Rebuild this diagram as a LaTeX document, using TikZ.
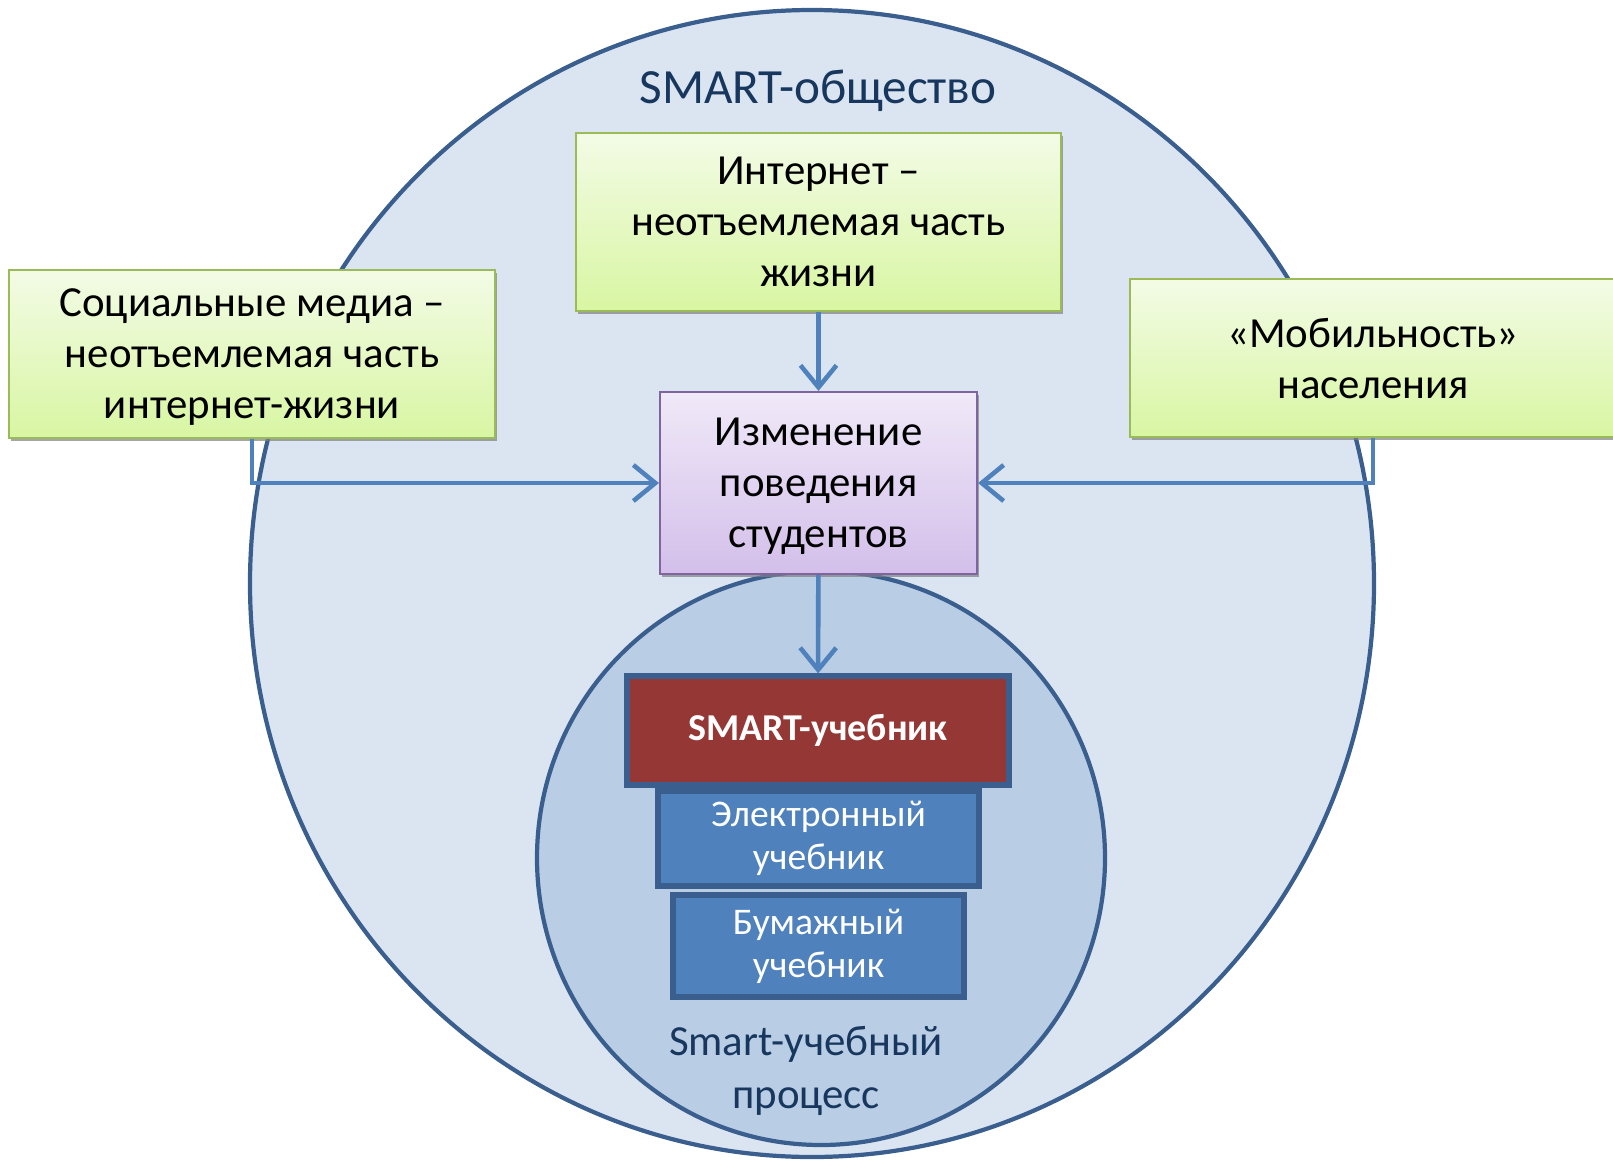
\documentclass[tikz,border=0pt]{standalone}
\usepackage{fontspec}
\setmainfont{Carlito}
\usetikzlibrary{positioning,arrows.meta,shadows}

\definecolor{ringfill}{HTML}{DBE5F1}
\definecolor{ringline}{HTML}{3A5F8E}
\definecolor{corefill}{HTML}{B9CDE5}
\definecolor{titleblue}{HTML}{17375E}
\definecolor{greentop}{HTML}{F3FBE6}
\definecolor{greenbot}{HTML}{D8F6A2}
\definecolor{greenline}{HTML}{9BBB59}
\definecolor{lilactop}{HTML}{F0E9F8}
\definecolor{lilacbot}{HTML}{D3BFEA}
\definecolor{lilacline}{HTML}{8064A2}
\definecolor{smartred}{HTML}{953735}
\definecolor{bookblue}{HTML}{4F81BD}

\begin{document}
\begin{tikzpicture}[
    ring/.style={draw=ringline, line width=1.2pt},
    greenbox/.style={rectangle, draw=greenline, line width=0.6pt, top color=greentop, bottom color=greenbot,
        align=center, inner sep=0pt, text depth=0pt, font=\fontsize{12.2}{14.5}\selectfont,
        drop shadow={shadow xshift=0.5pt, shadow yshift=-0.9pt, fill=black!50, opacity=0.7}},
    lilacbox/.style={rectangle, draw=lilacline, line width=0.6pt, top color=lilactop, bottom color=lilacbot,
        align=center, inner sep=0pt, text depth=0pt, font=\fontsize{12.2}{14.5}\selectfont,
        drop shadow={shadow xshift=0.5pt, shadow yshift=-0.9pt, fill=black!50, opacity=0.7}},
    bookbox/.style={rectangle, draw=ringline, line width=1.5pt, fill=bookblue, text=white,
        align=center, inner sep=0pt, font=\fontsize{10.7}{12.2}\selectfont},
    circlelabel/.style={text=titleblue, align=center, font=\fontsize{12.2}{15}\selectfont},
    flow/.style={draw=bookblue, line width=1.3pt, -{Straight Barb[length=2.2mm,width=3.6mm]}}
]
    \useasboundingbox (0,0) rectangle (16.13,11.59);

    % Circles: society and learning process
    \draw[ring, fill=ringfill] (8.12,5.755) ellipse [x radius=5.62, y radius=5.735];
    \draw[ring, fill=corefill] (8.21,3.01) ellipse [x radius=2.84, y radius=2.87];

    \node[circlelabel, anchor=base, font=\fontsize{14}{16}\selectfont] (society) at (8.18,10.56) {SMART-общество};
    \node[circlelabel] (process) at (8.06,0.88) {Smart-учебный\\процесс};

    % Factors
    \node[greenbox, minimum width=4.85cm, minimum height=1.78cm] (net) at (8.185,9.37)
        {Интернет –\\неотъемлемая часть\\жизни};
    \node[greenbox, minimum width=4.86cm, minimum height=1.68cm] (soc) at (2.52,8.05)
        {Социальные медиа –\\неотъемлемая часть\\интернет-жизни};
    \node[greenbox, minimum width=4.86cm, minimum height=1.58cm] (mob) at (13.73,8.01)
        {«Мобильность»\\населения};

    \node[lilacbox, minimum width=3.17cm, minimum height=1.82cm] (behave) at (8.185,6.76)
        {Изменение\\поведения\\студентов};

    % Textbooks
    \node[bookbox, fill=smartred, minimum width=3.82cm, minimum height=1.09cm,
        font=\fontsize{10.8}{12.2}\selectfont\bfseries] (smart) at (8.18,4.285) {SMART-учебник};
    \node[bookbox, minimum width=3.21cm, minimum height=0.95cm] (ebook) at (8.185,3.205)
        {Электронный\\учебник};
    \node[bookbox, minimum width=2.91cm, minimum height=1.02cm] (paper) at (8.185,2.13)
        {Бумажный\\учебник};

    % Connectors
    \draw[flow] (net) -- (behave);
    \draw[flow] (soc.south) |- (behave.west);
    \draw[flow] (mob.south) |- (behave.east);
    \draw[flow] (behave) -- (smart);
\end{tikzpicture}
\end{document}
